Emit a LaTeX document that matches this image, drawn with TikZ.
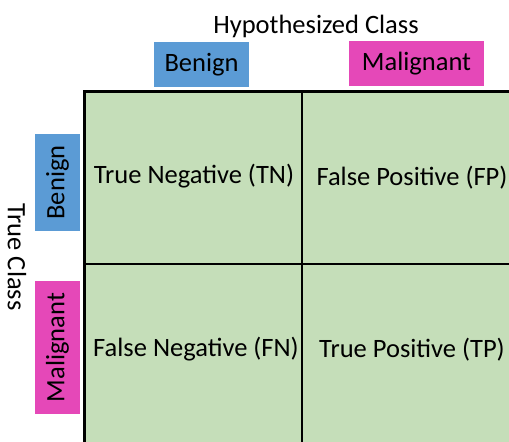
\documentclass[tikz,border=0pt]{standalone}
\usepackage{fontspec}
\setmainfont{Carlito}
\usepackage{tikz}
\definecolor{benignblue}{HTML}{5B9BD5}
\definecolor{malignpink}{HTML}{E548B8}
\definecolor{cellgreen}{HTML}{C5DEB9}
\tikzstyle{classbox} = [rectangle, inner sep=0pt, text=black]
\tikzstyle{celltext} = [inner sep=0pt]
\tikzstyle{gridline} = [line width=2pt, draw]

\begin{document}
\begin{tikzpicture}[x=1pt, y=-1pt, font=\fontsize{26.5}{31}\selectfont]
\useasboundingbox (0,0) rectangle (509,442);

% matrix body
\fill [cellgreen] (84,91) rectangle (509,442);
\path [gridline] (302,91) -- (302,442);
\path [gridline] (84,264) -- (509,264);
\draw [line width=3pt] (84,442) -- (84,91) -- (509,91);

% axis titles
\node (hyp) at (316,26) {Hypothesized Class};
\node [rotate=-90] (true) at (17,257) {True Class};

% class boxes
\node [classbox, fill=benignblue, minimum width=95pt, minimum height=45pt] (hb) at (201.5,64.5) {Benign};
\node [classbox, fill=malignpink, minimum width=135pt, minimum height=45pt] (hm) at (416.5,63.5) {Malignant};
\node [classbox, fill=benignblue, rotate=90, minimum width=97pt, minimum height=45pt] (tb) at (57.5,182.5) {Benign};
\node [classbox, fill=malignpink, rotate=90, minimum width=133pt, minimum height=45pt] (tm) at (57.5,347.5) {Malignant};

% cells
\node [celltext] (tn) at (194,176) {True Negative (TN)};
\node [celltext] (fp) at (412,178) {False Positive (FP)};
\node [celltext] (fn) at (196,349) {False Negative (FN)};
\node [celltext] (tp) at (412,350) {True Positive (TP)};

\end{tikzpicture}
\end{document}
